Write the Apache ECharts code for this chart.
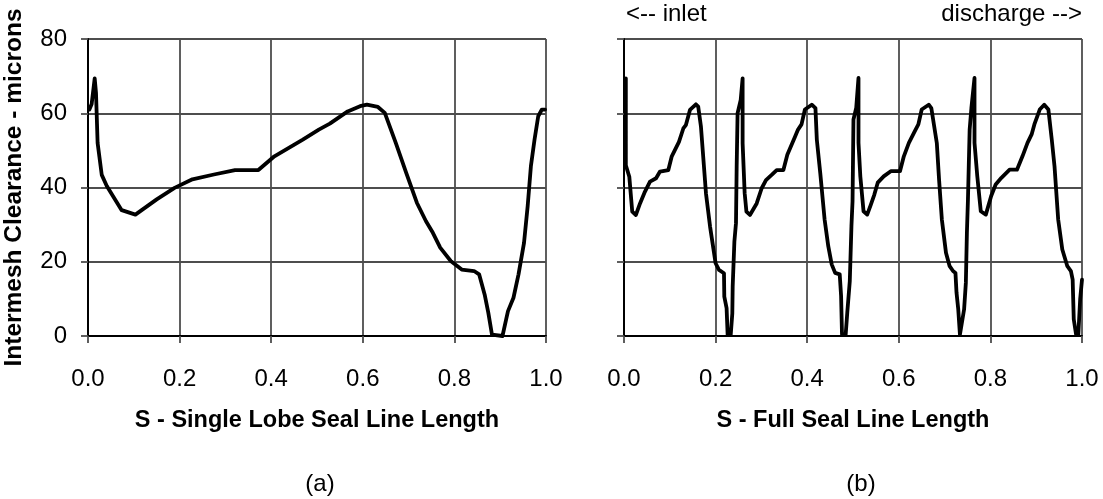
<!DOCTYPE html>
<html><head><meta charset="utf-8">
<script src="https://cdn.jsdelivr.net/npm/echarts@6/dist/echarts.min.js"></script>
<style>html,body{margin:0;padding:0;background:#fff}#c{width:1103px;height:499px}</style>
</head><body><div id="c"></div>
<script>
// Panel (a): single lobe seal line
const leftS = [0.003,0.008,0.0146,0.0175,0.021,0.030,0.041,0.0735,0.0765,0.1035,0.15,0.189,0.228,0.275,0.321,0.372,0.407,0.469,0.504,0.528,0.567,0.594,0.609,0.633,0.648,0.672,0.695,0.718,0.738,0.753,0.769,0.792,0.816,0.843,0.854,0.866,0.874,0.882,0.885,0.905,0.913,0.917,0.929,0.940,0.952,0.960,0.967,0.975,0.983,0.991,0.998];
const leftClearance = [61.0,62.5,69.4,65.4,52,43.4,40.4,33.9,33.6,32.7,36.8,39.9,42.2,43.5,44.7,44.7,48.4,52.9,55.6,57.2,60.5,61.9,62.3,61.7,60.1,52,43.9,35.9,30.9,27.8,23.8,20.2,17.9,17.5,16.6,11.2,6.3,0.4,0,0,4.5,6.7,10.3,16.6,25.1,35,45.7,52.9,59.2,61,61];

// Panel (b): full seal line (four lobes)
const fullS = [
  0.004,0.004,0.0116,0.018,0.026,0.035,0.0447,0.0568,0.07,0.0786,0.0968,0.104,0.12,0.1295,0.135,0.144,0.157,0.162,0.168,0.179,0.188,0.2,0.2074,0.2183,0.219,0.224,0.2263,0.233,0.2365,0.2373,0.241,0.2445,0.246,0.248,0.2548,0.259,
  0.259,0.2635,0.2673,0.275,0.2897,0.3006,0.31,0.3224,0.3334,0.348,0.3566,0.3734,0.38,0.3876,0.395,0.41,0.418,0.421,0.4285,0.438,0.446,0.4535,0.461,0.471,0.474,0.476,0.484,0.4875,0.493,0.4966,0.499,0.501,0.507,0.512,
  0.512,0.516,0.523,0.531,0.539,0.5466,0.554,0.567,0.5825,0.6026,0.611,0.622,0.635,0.6427,0.650,0.6654,0.671,0.683,0.688,0.694,0.703,0.711,0.7184,0.7237,0.726,0.7298,0.7335,0.7373,0.7426,0.7464,0.7487,0.751,0.7547,0.7585,0.7653,
  0.7653,0.7714,0.779,0.79,0.8017,0.8115,0.824,0.842,0.858,0.87,0.881,0.89,0.896,0.9077,0.9175,0.9266,0.934,0.940,0.948,0.957,0.968,0.9758,0.9796,0.982,0.9871,0.992,0.996,1.0];
const fullClearance = [
  69.4,46,42.9,33.5,32.6,35.7,38.6,41.6,42.5,44.3,44.7,48.3,52.3,55.9,56.8,60.9,62.4,61.8,56.4,38.4,29.4,19.6,17.8,16.9,10.6,7.5,0.3,0.3,6.1,13.3,25.4,30.4,45.6,60,63.6,69.4,
  51.9,38.4,33.5,32.6,35.7,39.8,42,43.4,44.7,44.7,48.8,53.7,55.6,57,61,62.3,61.4,52.9,43.9,31.4,24.2,19.3,17,16.6,10.8,0.4,0.4,6.3,14.8,29.6,36.3,58.3,61.4,69.5,
  52,43,33.6,32.7,35.4,38.1,41.3,43,44.4,44.4,48.4,52,55.2,57,61,62.3,61.4,52,42,31.4,22.4,18.8,17.5,17,11.7,7.2,0.4,0.4,7.2,14.3,27.8,36.8,55.6,61.4,69.5,
  52,43,33.6,32.7,37.7,40.8,42.6,44.8,44.8,48.4,52,54.3,57,61,62.3,61,52.9,45.7,31.4,23.3,18.8,17.5,15.2,4.5,0.4,0.4,9.9,15.2];

const xTickLabels = ['0.0','0.2','0.4','0.6','0.8','1.0'];
const yTickLabels = ['0','20','40','60','80'];

const FONT = '"Liberation Sans", Arial, sans-serif';
const GRID_COLOR = '#4d4d4d';

function xAxisCfg(idx, name) {
  return {
    type: 'value', gridIndex: idx, min: 0, max: 1, interval: 0.2,
    axisLine: { show: true, onZero: false, lineStyle: { color: '#000', width: 2 } },
    axisTick: { show: true, length: 7, lineStyle: { color: GRID_COLOR, width: 1.8 } },
    axisLabel: { fontSize: 24, color: '#000', fontFamily: FONT, margin: 31,
      formatter: v => xTickLabels[Math.round(v / 0.2)] },
    splitLine: { show: true, lineStyle: { color: GRID_COLOR, width: 1.8 } },
    name: name, nameLocation: 'middle', nameGap: 73,
    nameTextStyle: { fontSize: 23.5, fontWeight: 'bold', color: '#000', fontFamily: FONT }
  };
}
function yAxisCfg(idx, showLabels) {
  const cfg = {
    type: 'value', gridIndex: idx, min: 0, max: 80, interval: 20,
    axisLine: { show: true, onZero: false, lineStyle: { color: '#000', width: 2 } },
    axisTick: { show: true, length: 7, lineStyle: { color: GRID_COLOR, width: 1.8 } },
    axisLabel: { show: showLabels, fontSize: 24, color: '#000', fontFamily: FONT, margin: 21,
      formatter: v => yTickLabels[Math.round(v / 20)] },
    splitLine: { show: true, lineStyle: { color: GRID_COLOR, width: 1.8 } }
  };
  if (showLabels) {
    cfg.name = 'Intermesh Clearance - microns';
    cfg.nameLocation = 'middle';
    cfg.nameRotate = 90;
    cfg.nameGap = 61;
    cfg.nameTextStyle = { fontSize: 24.5, fontWeight: 'bold', color: '#000', fontFamily: FONT };
  }
  return cfg;
}

const lineStyle = { color: '#000', width: 3.8, join: 'round', cap: 'round' };

const chart = echarts.init(document.getElementById('c'), null, { renderer: 'canvas' });
chart.setOption({
  animation: false,
  backgroundColor: '#fff',
  grid: [
    { left: 88, top: 39, width: 458, height: 297 },
    { left: 624, top: 39, width: 458, height: 297 }
  ],
  xAxis: [xAxisCfg(0, 'S - Single Lobe Seal Line Length'), xAxisCfg(1, 'S - Full Seal Line Length')],
  yAxis: [yAxisCfg(0, true), yAxisCfg(1, false)],
  series: [
    { type: 'line', xAxisIndex: 0, yAxisIndex: 0, showSymbol: false, smooth: false,
      data: leftS.map((s, i) => [s, leftClearance[i]]), lineStyle: lineStyle, z: 5 },
    { type: 'line', xAxisIndex: 1, yAxisIndex: 1, showSymbol: false, smooth: false,
      data: fullS.map((s, i) => [s, fullClearance[i]]), lineStyle: lineStyle, z: 5 }
  ],
  graphic: [
    { type: 'text', x: 626, y: 14, style: { text: '<-- inlet', font: '24px ' + FONT, fill: '#000', align: 'left', verticalAlign: 'middle' } },
    { type: 'text', x: 1082, y: 14, style: { text: 'discharge -->', font: '24px ' + FONT, fill: '#000', align: 'right', verticalAlign: 'middle' } },
    { type: 'text', x: 320, y: 484, style: { text: '(a)', font: '24px ' + FONT, fill: '#000', align: 'center', verticalAlign: 'middle' } },
    { type: 'text', x: 861, y: 484, style: { text: '(b)', font: '24px ' + FONT, fill: '#000', align: 'center', verticalAlign: 'middle' } }
  ]
});
</script>
</body></html>
